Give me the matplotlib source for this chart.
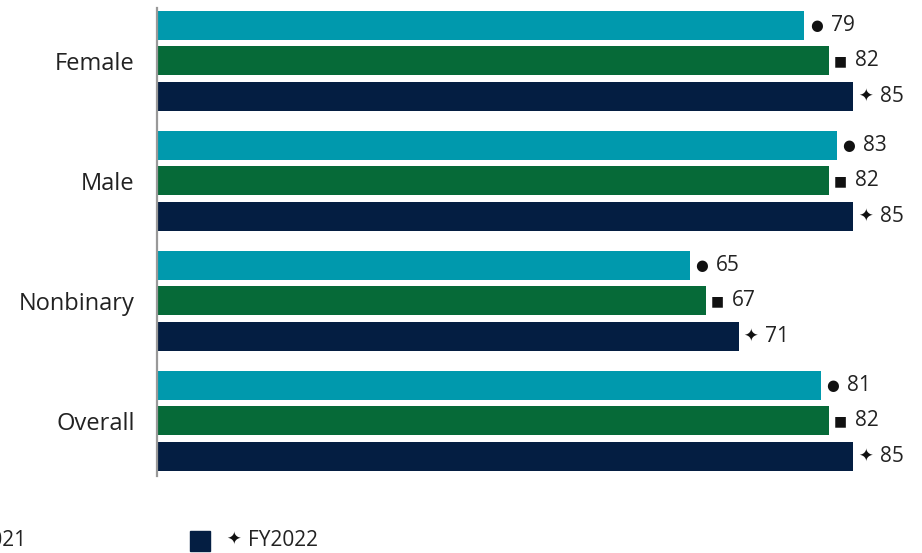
import numpy as np
import matplotlib as mpl
mpl.use('Agg')
import matplotlib.pyplot as plt
from matplotlib.patches import Rectangle

plt.rcParams['font.family'] = ['Open Sans', 'DejaVu Sans']

categories = ['Female', 'Male', 'Nonbinary', 'Overall']
series = ['FY2020', 'FY2021', 'FY2022']
values = {
    'FY2020': [79, 83, 65, 81],
    'FY2021': [82, 82, 67, 82],
    'FY2022': [85, 85, 71, 85],
}
colors = ['#0099AD', '#066A38', '#041E42']
glyphs = ['\u25CF', '\u25A0', '\u2726']
glyph_sizes = [10.5, 10, 12.5]

W, H = 922, 553
fig = plt.figure(figsize=(W/100, H/100), dpi=100)
ax = fig.add_axes([157/W, 1 - 476/H, 762/W, 468/H])

y = np.arange(len(categories))
offsets = [-0.296, 0, 0.296]
for i, s in enumerate(series):
    v = values[s]
    ax.barh(y + offsets[i], v, height=0.242, color=colors[i])
    for yy, vv in zip(y + offsets[i], v):
        ax.annotate(glyphs[i], (vv, yy), xytext=(8.5, 0), textcoords='offset points',
                    ha='center', va='center', fontsize=glyph_sizes[i], color='#111111',
                    family=['DejaVu Sans'])
        ax.annotate(str(vv), (vv, yy), xytext=(19, 0), textcoords='offset points',
                    ha='left', va='center', fontsize=15, color='#222222')

ax.set_xlim(0, 93)
ax.set_ylim(3.46, -0.44)
ax.set_yticks(y)
ax.set_yticklabels(categories, fontsize=17, color='#222222')
ax.tick_params(axis='y', length=0, pad=16)
ax.set_xticks([])
for sp in ['top', 'right', 'bottom']:
    ax.spines[sp].set_visible(False)
ax.spines['left'].set_color('#999999')
ax.spines['left'].set_linewidth(1.6)

# legend (runs off the left edge like the original)
ly = 540
for i, s in enumerate(series):
    x0 = 190 - (len(series) - 1 - i) * 292
    fig.patches.append(Rectangle((x0/W, 1 - (ly + 11)/H), 20/W, 20/H,
                                 transform=fig.transFigure, color=colors[i]))
    fig.text((x0 + 44)/W, 1 - ly/H, glyphs[i], ha='center', va='center',
             fontsize=glyph_sizes[i], color='#111111', family=['DejaVu Sans'])
    fig.text((x0 + 58)/W, 1 - ly/H, s, ha='left', va='center',
             fontsize=15, color='#222222')

fig.savefig('out.png', dpi=100)
